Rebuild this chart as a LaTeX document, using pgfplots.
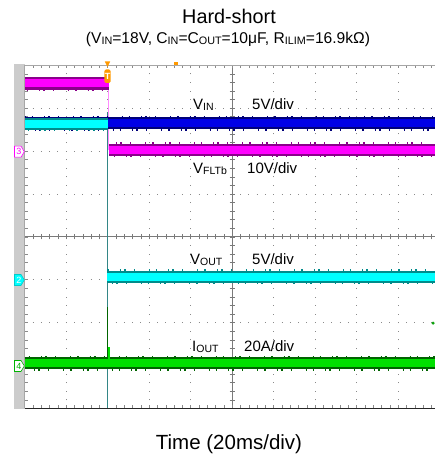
\documentclass[border=0pt]{standalone}
\usepackage{fontspec}
\setmainfont{Liberation Sans}
\usepackage{pgfplots}
\pgfplotsset{compat=1.18}
\definecolor{mag}{HTML}{FF00FF}
\definecolor{magd}{HTML}{8B008B}
\definecolor{cyn}{HTML}{00FFFF}
\definecolor{cynd}{HTML}{008B8B}
\definecolor{blu}{HTML}{0000E6}
\definecolor{blud}{HTML}{00007A}
\definecolor{grn}{HTML}{00E000}
\definecolor{grnd}{HTML}{006400}
\definecolor{org}{HTML}{FF9900}
\definecolor{gbar}{HTML}{CCCCCC}
\definecolor{gridc}{HTML}{8A8A8A}
\definecolor{cline}{HTML}{7A7A7A}
\newcommand\sub[2]{\raisebox{-0.9pt}{\fontsize{#1}{#1}\selectfont #2}}
\newcommand\chmark[5]{%
  \draw[#3, fill=#2, line width=0.6pt] (14.5,{#1-5.5}) -- (21,{#1-5.5}) -- (24.3,#1) -- (21,{#1+5.5}) -- (14.5,{#1+5.5}) -- cycle;
  \node[text=#4, inner sep=0, font=\fontsize{9}{9}\selectfont] at (18.8,#1) {#5};}
\pgfplotsset{noise/.style={line width=1.3pt, dash pattern=on 1pt off 6pt on 1.5pt off 11pt on 1pt off 3pt on 2pt off 8pt on 1pt off 14pt}}
\begin{document}
\begin{tikzpicture}[x=1pt,y=1pt]
\path[use as bounding box] (0,0) rectangle (435,457);
\fill[gbar] (14,47.5) rectangle (24.7,392.5);
\begin{scope}[shift={(24.7pt,48.5pt)}, x=41.5pt, y=42.9pt]
  \foreach \i in {1,2,3,4,6,7,8,9}
    \draw[gridc, line width=0.9pt, dash pattern=on 0.9pt off 7.68pt, dash phase=0.45pt] (\i,0) -- (\i,8);
  \foreach \j in {1,2,3,5,6,7}
    \draw[gridc, line width=0.9pt, dash pattern=on 0.9pt off 7.4pt, dash phase=0.45pt] (0,\j) -- (9.887,\j);
  \draw[cline, line width=1pt] (5,0) -- (5,8);
  \draw[cline, line width=1pt] (0,4) -- (9.887,4);
  \foreach \k in {1,...,49} {
    \draw[cline, line width=0.6pt] ({\k*0.2},4) ++(0,-2.5pt) -- ++(0,5pt);
    \draw[gridc, line width=0.6pt] ({\k*0.2},8) -- ++(0,-3pt);
    \draw[gridc, line width=0.6pt] ({\k*0.2},0) -- ++(0,3pt);
  }
  \foreach \k in {1,...,39} {
    \draw[cline, line width=0.6pt] (5,{\k*0.2}) ++(-2.5pt,0) -- ++(5pt,0);
    \draw[gridc, line width=0.6pt] (0,{\k*0.2}) -- ++(3pt,0);
  }
  \draw[gray!70, line width=0.8pt] (0,8) -- (9.887,8);
  \draw[gray!70, line width=0.6pt] (0,0) -- (0,8);
  \draw[black!85, line width=1.4pt] (0,0) -- (9.887,0);
\end{scope}
\begin{axis}[at={(24.7pt,48.5pt)}, anchor=south west, scale only axis,
  width=410.3pt, height=343.2pt, xmin=0, xmax=9.887, ymin=0, ymax=8,
  axis lines=none, clip=true]
  % thin transitions
  \addplot[cynd!60!gray, line width=0.8pt] coordinates {(1.99,6.91) (1.99,0)};
  \addplot[mag!45!white, line width=1pt] coordinates {(2.03,7.58) (2.03,6.03)};
  % VIN (blue)
  \addplot[blud, line width=12pt] coordinates {(0,6.65) (9.887,6.65)};
  \addplot[blu, line width=8pt] coordinates {(0,6.65) (9.887,6.65)};
  \addplot[blud, noise] coordinates {(0,6.805) (9.887,6.805)};
  \addplot[blud, noise, dash phase=9pt] coordinates {(0,6.495) (9.887,6.495)};
  % VOUT before short (cyan)
  \addplot[cynd, line width=12pt] coordinates {(0,6.64) (2.0,6.64)};
  \addplot[cyn, line width=8pt] coordinates {(0,6.64) (2.0,6.64)};
  \addplot[cynd, noise, dash phase=4pt] coordinates {(0,6.49) (2.0,6.49)};
  % VFLTb (magenta)
  \addplot[magd, line width=12.5pt] coordinates {(0,7.58) (2.03,7.58)};
  \addplot[mag, line width=8pt] coordinates {(0,7.58) (2.03,7.58)};
  \addplot[magd, noise, dash phase=5pt] coordinates {(0,7.42) (2.03,7.42)};
  \addplot[magd, line width=12.5pt] coordinates {(2.03,6.03) (9.887,6.03)};
  \addplot[mag, line width=8pt] coordinates {(2.03,6.03) (9.887,6.03)};
  \addplot[magd, noise, dash phase=12pt] coordinates {(2.03,6.19) (9.887,6.19)};
  \addplot[magd, noise, dash phase=2pt] coordinates {(2.03,5.87) (9.887,5.87)};
  % VOUT after short
  \addplot[cynd, line width=12pt] coordinates {(1.99,3.07) (9.887,3.07)};
  \addplot[cyn, line width=8pt] coordinates {(1.99,3.07) (9.887,3.07)};
  \addplot[cynd, noise, dash phase=7pt] coordinates {(1.99,3.225) (9.887,3.225)};
  \addplot[cynd, noise, dash phase=15pt] coordinates {(1.99,2.915) (9.887,2.915)};
  % IOUT
  \addplot[grnd, line width=0.9pt] coordinates {(1.99,1.06) (1.99,2.37)};
  \addplot[grnd, line width=12.5pt] coordinates {(0,1.06) (9.887,1.06)};
  \addplot[grn, line width=8pt] coordinates {(0,1.06) (9.887,1.06)};
  \addplot[grnd, noise, dash phase=3pt] coordinates {(0,1.22) (9.887,1.22)};
  \addplot[grnd, noise, dash phase=10pt] coordinates {(0,0.90) (9.887,0.90)};
  \addplot[grn, line width=2pt] coordinates {(2.04,1.06) (2.04,1.43)};
  \addplot[grn!70!black, only marks, mark=*, mark size=1.3pt] coordinates {(9.84,1.99)};
\end{axis}
% channel markers
\chmark{305.3}{white}{mag}{mag}{3}
\chmark{177}{cyn}{cyn!80!black}{white}{2}
\chmark{91}{white}{grn!80!black}{grn!80!black}{4}
% trigger marker
\fill[org] (104.8,395.5) -- (110.2,395.5) -- (107.5,390) -- cycle;
\fill[org, rounded corners=1.5pt] (104.3,387.5) rectangle (110.7,374);
\node[text=white, inner sep=0, font=\fontsize{9}{9}\selectfont\bfseries] at (107.5,380.8) {T};
\fill[org] (173.5,392) rectangle (177.5,394.5);
% labels
\node[anchor=base west, inner sep=0, font=\fontsize{15}{15}\selectfont] at (193,347) {V\sub{10.5}{IN}};
\node[anchor=base west, inner sep=0, font=\fontsize{15}{15}\selectfont] at (252,347) {5V/div};
\node[anchor=base west, inner sep=0, font=\fontsize{15}{15}\selectfont] at (193,283) {V\sub{10.5}{FLTb}};
\node[anchor=base west, inner sep=0, font=\fontsize{15}{15}\selectfont] at (247,283) {10V/div};
\node[anchor=base west, inner sep=0, font=\fontsize{15}{15}\selectfont] at (190,192) {V\sub{10.5}{OUT}};
\node[anchor=base west, inner sep=0, font=\fontsize{15}{15}\selectfont] at (252,192) {5V/div};
\node[anchor=base west, inner sep=0, font=\fontsize{15}{15}\selectfont] at (192,105) {I\sub{10.5}{OUT}};
\node[anchor=base west, inner sep=0, font=\fontsize{15}{15}\selectfont] at (244,105) {20A/div};
% titles
\node[anchor=base, inner sep=0, font=\fontsize{19.8}{19.8}\selectfont] at (229,433.5) {Hard-short};
\node[anchor=base, inner sep=0, font=\fontsize{15.6}{15.6}\selectfont] at (228,413.5) {(V\sub{10.8}{IN}=18V, C\sub{10.8}{IN}=C\sub{10.8}{OUT}=10μF, R\sub{10.8}{ILIM}=16.9kΩ)};
\node[anchor=base, inner sep=0, font=\fontsize{20.5}{20.5}\selectfont] at (229,7) {Time (20ms/div)};
\end{tikzpicture}
\end{document}
